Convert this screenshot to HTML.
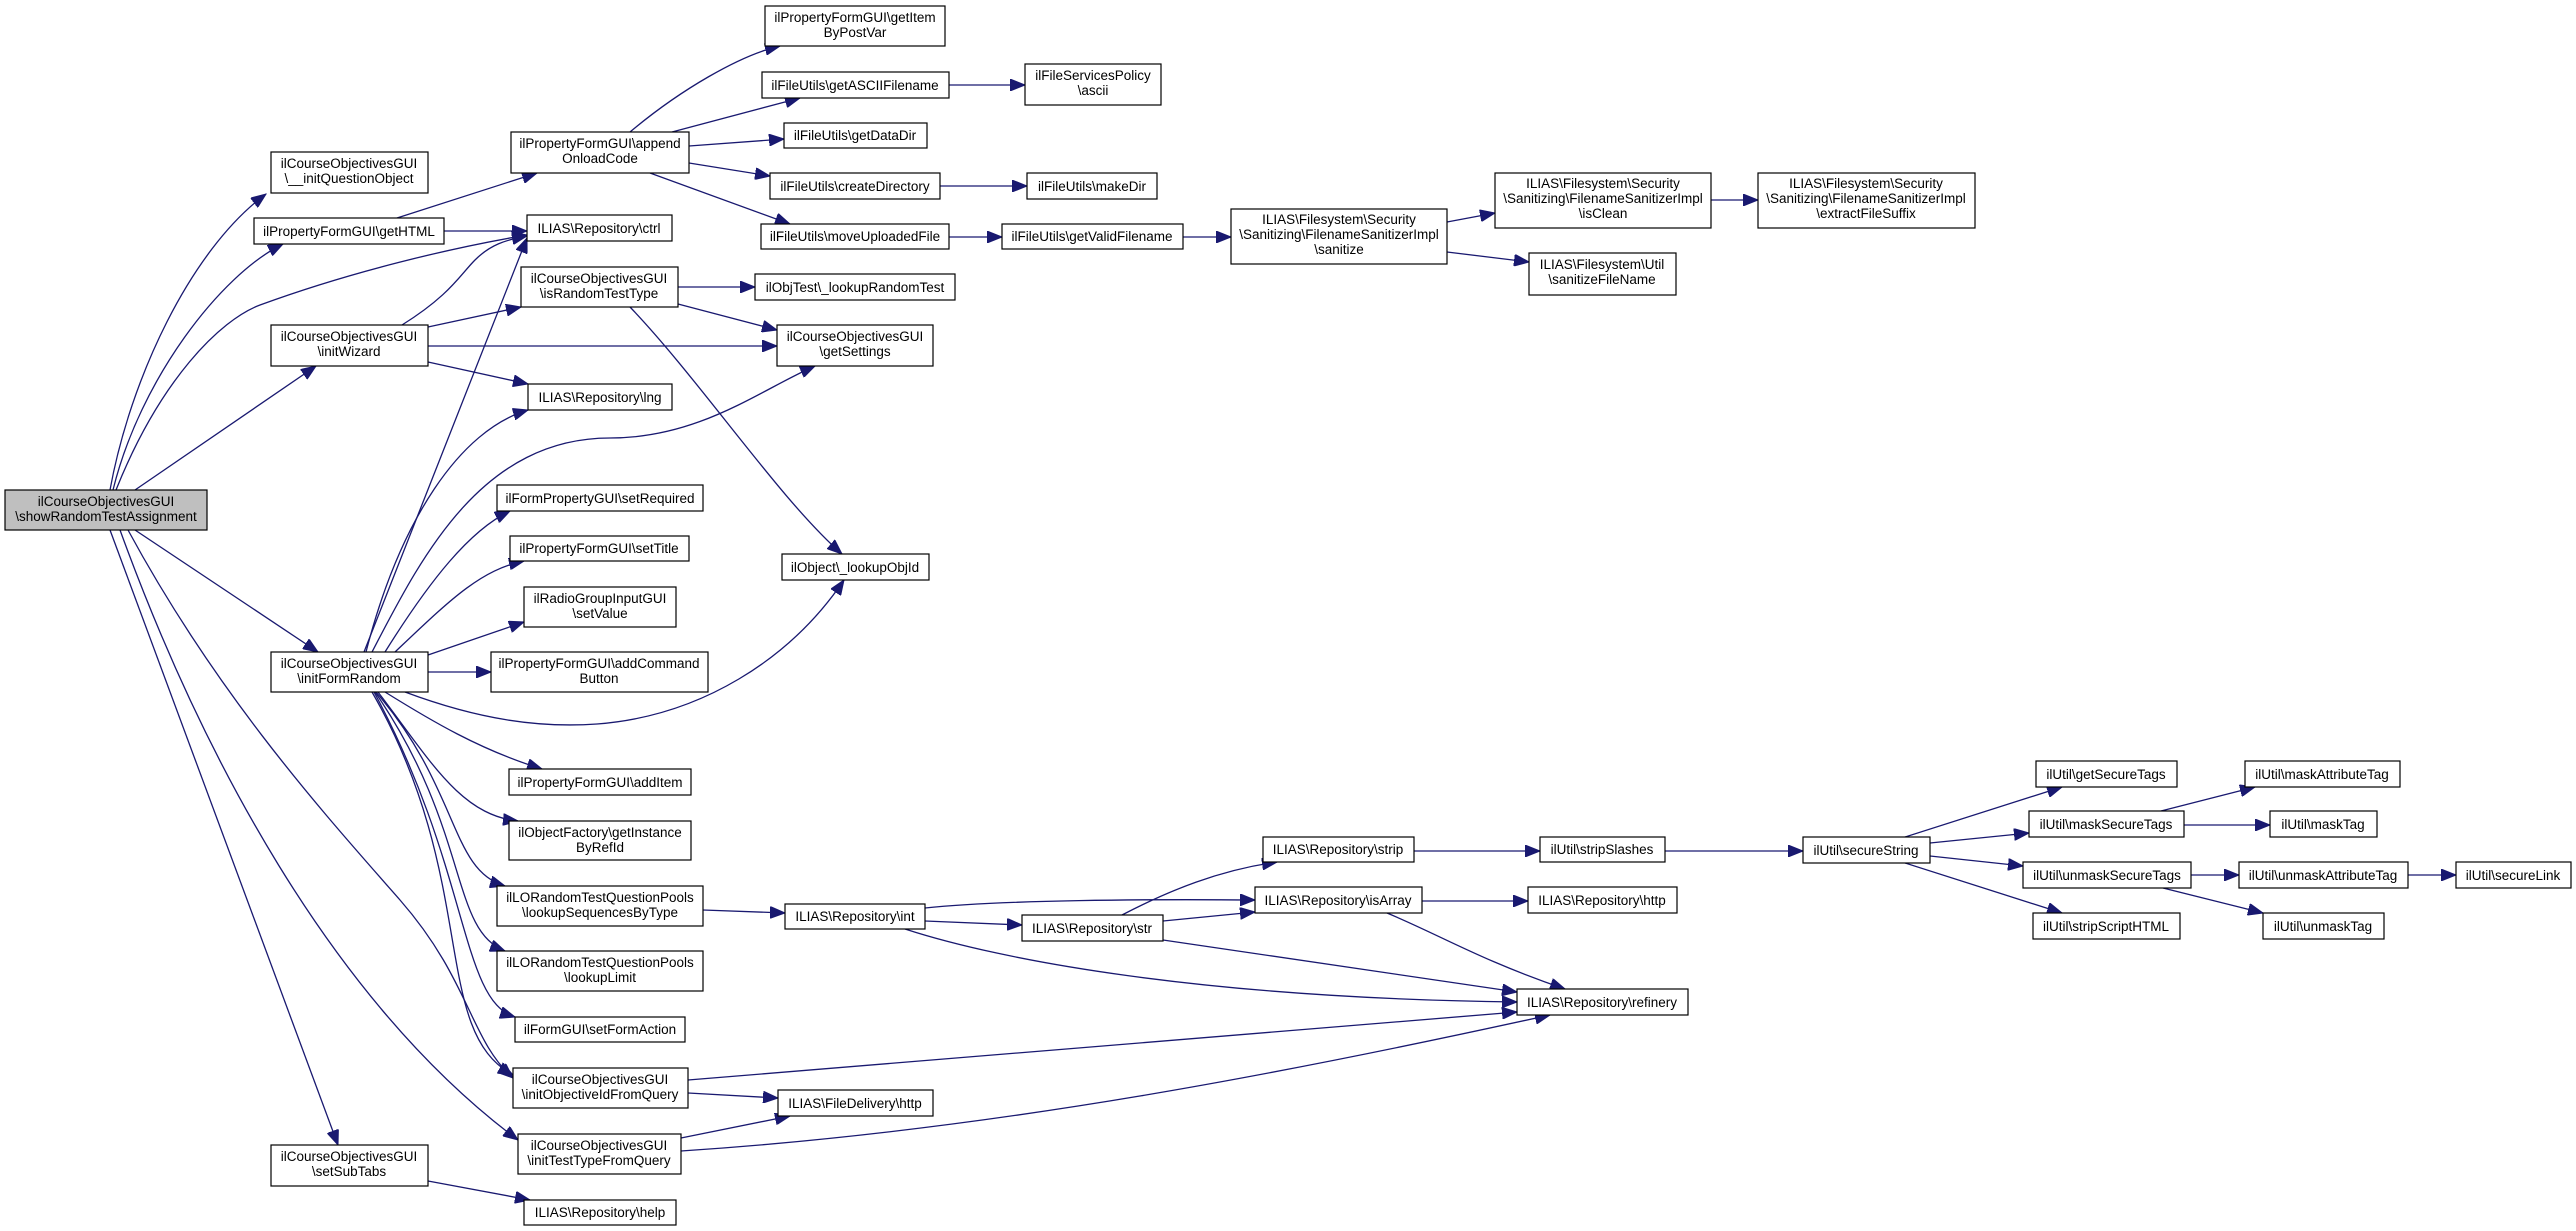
<!DOCTYPE html>
<html><head><meta charset="utf-8"><style>
html,body{margin:0;padding:0;background:#fff;}
svg{display:block;}
text{font-family:"Liberation Sans",sans-serif;font-size:13.5px;fill:#000;text-anchor:middle;}
rect{fill:#fff;stroke:#000;stroke-width:1.2;}
path{fill:none;stroke:#191970;stroke-width:1.3;}
</style></head><body>
<svg width="2576" height="1231" viewBox="0 0 2576 1231" xmlns="http://www.w3.org/2000/svg">
<defs><marker id="a" markerUnits="userSpaceOnUse" markerWidth="16" markerHeight="12" refX="15" refY="6" orient="auto"><path d="M0,0 L15,6 L0,12 Z" style="fill:#191970;stroke:#191970;stroke-width:1"/></marker></defs>
<g marker-end="url(#a)">
<path d="M110,490 C130,380 190,250 266,194"/>
<path d="M113,490 C140,380 220,275 283,244"/>
<path d="M116,490 C160,380 220,320 260,305 C350,272 450,248 527,235"/>
<path d="M135,490 L316,366"/>
<path d="M135,530 L318,652"/>
<path d="M128,530 C220,700 330,820 400,900 C470,980 470,1040 513,1078"/>
<path d="M120,530 C200,750 330,1000 518,1140"/>
<path d="M110,530 L338,1145"/>
<path d="M397,218 L537,173"/>
<path d="M444,231 L527,231"/>
<path d="M630,132 C680,90 740,55 780,46"/>
<path d="M672,132 L800,98"/>
<path d="M689,146 L784,139"/>
<path d="M689,163 L770,176"/>
<path d="M650,173 L790,224"/>
<path d="M949,85 L1025,85"/>
<path d="M940,186 L1027,186"/>
<path d="M949,237 L1002,237"/>
<path d="M1183,237 L1231,237"/>
<path d="M1447,222 L1495,213"/>
<path d="M1447,252 L1529,262"/>
<path d="M1711,200 L1758,200"/>
<path d="M402,325 C450,295 460,275 475,260 C490,245 505,240 527,236"/>
<path d="M428,327 L521,307"/>
<path d="M428,346 L777,346"/>
<path d="M428,362 L528,384"/>
<path d="M678,287 L755,287"/>
<path d="M678,304 L777,330"/>
<path d="M630,307 C700,380 780,500 842,554"/>
<path d="M364,652 L527,238"/>
<path d="M366,652 C400,520 460,430 528,410"/>
<path d="M372,652 C420,560 480,438 610,438 C700,438 760,390 815,366"/>
<path d="M385,652 C430,580 470,530 510,511"/>
<path d="M395,652 C450,600 480,570 524,561"/>
<path d="M428,655 L524,622"/>
<path d="M428,672 L491,672"/>
<path d="M405,692 C480,720 540,728 597,724 C700,716 790,660 844,580"/>
<path d="M385,692 C430,720 480,750 542,769"/>
<path d="M378,692 C430,760 460,815 518,821"/>
<path d="M376,692 C460,790 450,870 505,886"/>
<path d="M375,692 C470,830 450,930 505,951"/>
<path d="M374,692 C470,870 460,1000 515,1017"/>
<path d="M372,692 C480,880 430,1030 513,1075"/>
<path d="M688,1080 L1517,1012"/>
<path d="M688,1093 L778,1098"/>
<path d="M681,1138 L790,1116"/>
<path d="M681,1151 C1000,1130 1300,1070 1550,1015"/>
<path d="M428,1181 L530,1200"/>
<path d="M703,910 L785,913"/>
<path d="M925,908 C1000,900 1150,899 1255,900"/>
<path d="M925,921 L1022,925"/>
<path d="M905,929 C1000,960 1200,998 1517,1002"/>
<path d="M1122,915 C1170,890 1220,870 1277,862"/>
<path d="M1163,921 L1255,912"/>
<path d="M1163,940 L1517,992"/>
<path d="M1414,851 L1540,851"/>
<path d="M1422,901 L1528,901"/>
<path d="M1387,913 C1440,935 1480,960 1565,989"/>
<path d="M1665,851 L1803,851"/>
<path d="M1905,837 L2062,787"/>
<path d="M1930,843 L2029,833"/>
<path d="M1930,856 L2023,866"/>
<path d="M1905,863 L2062,913"/>
<path d="M2161,811 L2255,787"/>
<path d="M2184,825 L2270,825"/>
<path d="M2191,875 L2239,875"/>
<path d="M2163,888 L2263,913"/>
<path d="M2408,875 L2456,875"/>
</g>
<!-- nodes -->
<rect x="5" y="490" width="202" height="40" style="fill:#bfbfbf"/><text x="106" y="506">ilCourseObjectivesGUI</text><text x="106" y="521">\showRandomTestAssignment</text>
<rect x="271" y="152" width="157" height="41"/><text x="349" y="168">ilCourseObjectivesGUI</text><text x="349" y="183">\__initQuestionObject</text>
<rect x="254" y="218" width="190" height="26"/><text x="349" y="236">ilPropertyFormGUI\getHTML</text>
<rect x="271" y="325" width="157" height="41"/><text x="349" y="341">ilCourseObjectivesGUI</text><text x="349" y="356">\initWizard</text>
<rect x="271" y="652" width="157" height="40"/><text x="349" y="668">ilCourseObjectivesGUI</text><text x="349" y="683">\initFormRandom</text>
<rect x="271" y="1145" width="157" height="41"/><text x="349" y="1161">ilCourseObjectivesGUI</text><text x="349" y="1176">\setSubTabs</text>
<rect x="511" y="132" width="178" height="41"/><text x="600" y="148">ilPropertyFormGUI\append</text><text x="600" y="163">OnloadCode</text>
<rect x="527" y="215" width="145" height="26"/><text x="599" y="233">ILIAS\Repository\ctrl</text>
<rect x="521" y="267" width="157" height="40"/><text x="599" y="283">ilCourseObjectivesGUI</text><text x="599" y="298">\isRandomTestType</text>
<rect x="528" y="384" width="144" height="26"/><text x="600" y="402">ILIAS\Repository\lng</text>
<rect x="497" y="485" width="206" height="26"/><text x="600" y="503">ilFormPropertyGUI\setRequired</text>
<rect x="510" y="536" width="179" height="25"/><text x="599" y="553">ilPropertyFormGUI\setTitle</text>
<rect x="524" y="587" width="152" height="40"/><text x="600" y="603">ilRadioGroupInputGUI</text><text x="600" y="618">\setValue</text>
<rect x="491" y="652" width="217" height="40"/><text x="599" y="668">ilPropertyFormGUI\addCommand</text><text x="599" y="683">Button</text>
<rect x="509" y="769" width="182" height="26"/><text x="600" y="787">ilPropertyFormGUI\addItem</text>
<rect x="509" y="821" width="182" height="39"/><text x="600" y="837">ilObjectFactory\getInstance</text><text x="600" y="852">ByRefId</text>
<rect x="497" y="886" width="206" height="40"/><text x="600" y="902">ilLORandomTestQuestionPools</text><text x="600" y="917">\lookupSequencesByType</text>
<rect x="497" y="951" width="206" height="40"/><text x="600" y="967">ilLORandomTestQuestionPools</text><text x="600" y="982">\lookupLimit</text>
<rect x="515" y="1017" width="170" height="25"/><text x="600" y="1034">ilFormGUI\setFormAction</text>
<rect x="513" y="1068" width="175" height="40"/><text x="600" y="1084">ilCourseObjectivesGUI</text><text x="600" y="1099">\initObjectiveIdFromQuery</text>
<rect x="518" y="1134" width="163" height="40"/><text x="599" y="1150">ilCourseObjectivesGUI</text><text x="599" y="1165">\initTestTypeFromQuery</text>
<rect x="524" y="1200" width="152" height="25"/><text x="600" y="1217">ILIAS\Repository\help</text>
<rect x="765" y="6" width="180" height="40"/><text x="855" y="22">ilPropertyFormGUI\getItem</text><text x="855" y="37">ByPostVar</text>
<rect x="762" y="72" width="187" height="26"/><text x="855" y="90">ilFileUtils\getASCIIFilename</text>
<rect x="784" y="123" width="143" height="25"/><text x="855" y="140">ilFileUtils\getDataDir</text>
<rect x="770" y="173" width="170" height="26"/><text x="855" y="191">ilFileUtils\createDirectory</text>
<rect x="761" y="224" width="188" height="25"/><text x="855" y="241">ilFileUtils\moveUploadedFile</text>
<rect x="755" y="274" width="200" height="26"/><text x="855" y="292">ilObjTest\_lookupRandomTest</text>
<rect x="777" y="325" width="156" height="41"/><text x="855" y="341">ilCourseObjectivesGUI</text><text x="855" y="356">\getSettings</text>
<rect x="782" y="554" width="147" height="26"/><text x="855" y="572">ilObject\_lookupObjId</text>
<rect x="785" y="904" width="140" height="25"/><text x="855" y="921">ILIAS\Repository\int</text>
<rect x="778" y="1090" width="155" height="26"/><text x="855" y="1108">ILIAS\FileDelivery\http</text>
<rect x="1025" y="64" width="136" height="41"/><text x="1093" y="80">ilFileServicesPolicy</text><text x="1093" y="95">\ascii</text>
<rect x="1027" y="173" width="130" height="26"/><text x="1092" y="191">ilFileUtils\makeDir</text>
<rect x="1002" y="224" width="181" height="25"/><text x="1092" y="241">ilFileUtils\getValidFilename</text>
<rect x="1022" y="915" width="141" height="26"/><text x="1092" y="933">ILIAS\Repository\str</text>
<rect x="1231" y="209" width="216" height="55"/><text x="1339" y="224">ILIAS\Filesystem\Security</text><text x="1339" y="239">\Sanitizing\FilenameSanitizerImpl</text><text x="1339" y="254">\sanitize</text>
<rect x="1263" y="837" width="151" height="25"/><text x="1338" y="854">ILIAS\Repository\strip</text>
<rect x="1255" y="887" width="167" height="26"/><text x="1338" y="905">ILIAS\Repository\isArray</text>
<rect x="1495" y="173" width="216" height="55"/><text x="1603" y="188">ILIAS\Filesystem\Security</text><text x="1603" y="203">\Sanitizing\FilenameSanitizerImpl</text><text x="1603" y="218">\isClean</text>
<rect x="1529" y="253" width="147" height="42"/><text x="1602" y="269">ILIAS\Filesystem\Util</text><text x="1602" y="284">\sanitizeFileName</text>
<rect x="1758" y="173" width="217" height="55"/><text x="1866" y="188">ILIAS\Filesystem\Security</text><text x="1866" y="203">\Sanitizing\FilenameSanitizerImpl</text><text x="1866" y="218">\extractFileSuffix</text>
<rect x="1540" y="837" width="125" height="25"/><text x="1602" y="854">ilUtil\stripSlashes</text>
<rect x="1528" y="887" width="149" height="26"/><text x="1602" y="905">ILIAS\Repository\http</text>
<rect x="1517" y="989" width="171" height="26"/><text x="1602" y="1007">ILIAS\Repository\refinery</text>
<rect x="1803" y="837" width="127" height="26"/><text x="1866" y="855">ilUtil\secureString</text>
<rect x="2036" y="761" width="141" height="26"/><text x="2106" y="779">ilUtil\getSecureTags</text>
<rect x="2029" y="811" width="155" height="26"/><text x="2106" y="829">ilUtil\maskSecureTags</text>
<rect x="2023" y="862" width="168" height="26"/><text x="2107" y="880">ilUtil\unmaskSecureTags</text>
<rect x="2033" y="913" width="147" height="26"/><text x="2106" y="931">ilUtil\stripScriptHTML</text>
<rect x="2245" y="761" width="155" height="26"/><text x="2322" y="779">ilUtil\maskAttributeTag</text>
<rect x="2270" y="811" width="107" height="26"/><text x="2323" y="829">ilUtil\maskTag</text>
<rect x="2239" y="862" width="169" height="26"/><text x="2323" y="880">ilUtil\unmaskAttributeTag</text>
<rect x="2263" y="913" width="121" height="26"/><text x="2323" y="931">ilUtil\unmaskTag</text>
<rect x="2456" y="862" width="115" height="26"/><text x="2513" y="880">ilUtil\secureLink</text>
</svg>
</body></html>
